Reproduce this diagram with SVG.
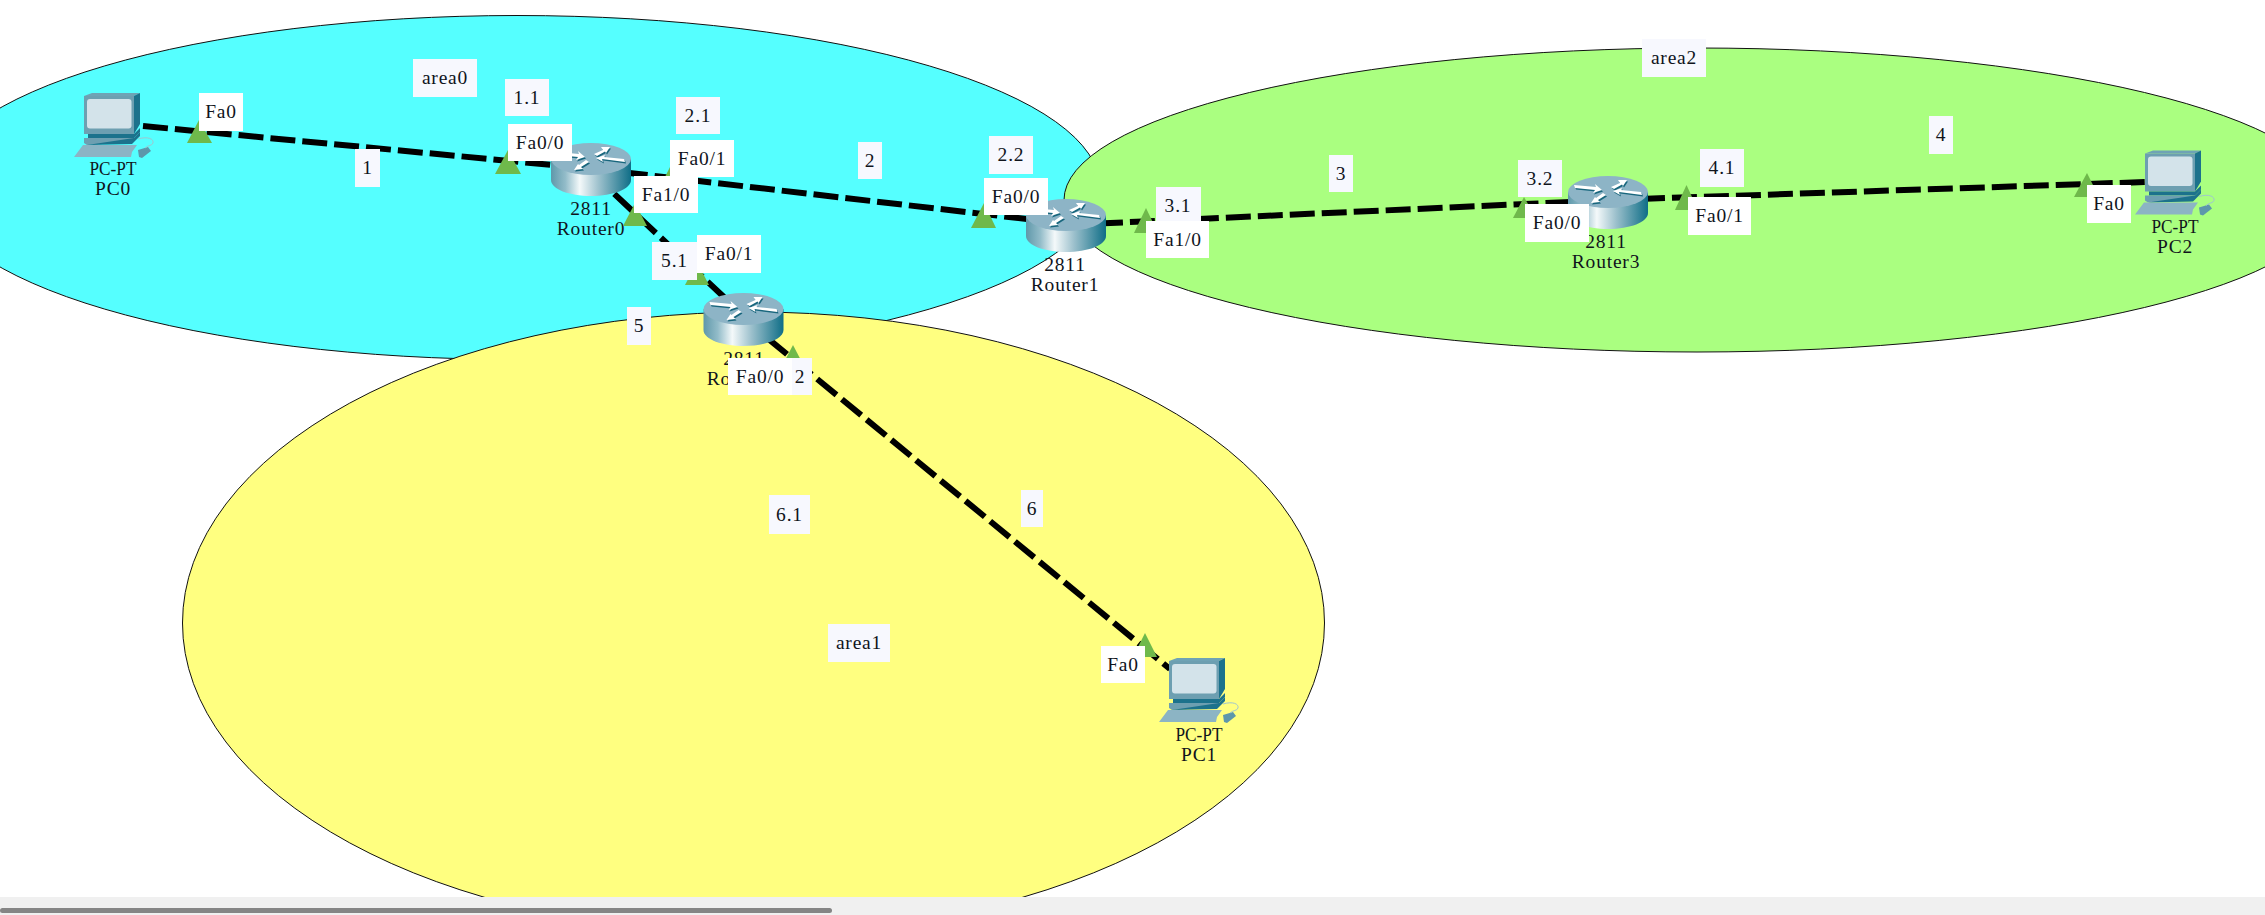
<svg xmlns="http://www.w3.org/2000/svg" width="2265" height="915" viewBox="0 0 2265 915">
<style>
.area{stroke:#111;stroke-width:1}
.link{fill:none;stroke:#000;stroke-width:6;stroke-dasharray:25 7}
.tri{fill:#6fb94b}
.note{fill:#f7f8fe}
.port{fill:#fff}
text{font-family:"Liberation Serif","Noto Sans CJK SC",serif;font-size:19.500px;letter-spacing:.8px;fill:#10141c;text-anchor:middle}
.pt{letter-spacing:0}
</style>
<defs>
<linearGradient id="cyl" x1="0" x2="1" y1="0" y2="0">
<stop offset="0" stop-color="#5f98aa"/><stop offset=".18" stop-color="#93bcc9"/><stop offset=".36" stop-color="#f4f9fa"/><stop offset=".6" stop-color="#9cc0cc"/><stop offset="1" stop-color="#0f6e87"/>
</linearGradient>
<g id="router">
<path d="M-40 0V21C-40 30-22 37 0 37S40 30 40 21V0Z" fill="url(#cyl)"/>
<ellipse cx="0" cy="0" rx="40" ry="16" fill="#8db4c6"/>
<g fill="#18667d" transform="translate(1 1.6)">
<polygon points="-34,-7 -12,-5 -13,-8 -6,-2 -15,1 -13,-2 -33,-4"/>
<polygon points="3,-5 12,-9 10,-12 19,-12 15,-6 14,-7.5 6,-3"/>
<polygon points="-2,3 -10,8 -8,10 -17,11 -13,5 -12,6 -5,1"/>
<polygon points="34,3 11,0 12,3 5,-1 14,-4 13,-2 33,0"/>
</g>
<g fill="#fff">
<polygon points="-34,-7 -12,-5 -13,-8 -6,-2 -15,1 -13,-2 -33,-4"/>
<polygon points="3,-5 12,-9 10,-12 19,-12 15,-6 14,-7.5 6,-3"/>
<polygon points="-2,3 -10,8 -8,10 -17,11 -13,5 -12,6 -5,1"/>
<polygon points="34,3 11,0 12,3 5,-1 14,-4 13,-2 33,0"/>
</g>
</g>
<g id="pc">
<polygon points="24,16 32,13 80,13 74,16" fill="#6fa3b5"/>
<polygon points="74,16 80,13 80,44 74,54" fill="#1c728c"/>
<rect x="24" y="16" width="50" height="38" fill="#6d9fb1"/>
<rect x="27" y="19" width="44.500" height="29.500" rx="3" fill="#d3e3ea"/>
<polygon points="28,54 74,54 80,48 80,52 74,58 28,58" fill="#1c728c"/>
<polygon points="24,58 74,58 74,62 27,65 24,63" fill="#6d9fb1"/>
<polygon points="74,58 80,52 80,56 72,64 27,65" fill="#1c728c"/>
<polygon points="14,77 23,65 77,65 72,72 71,77" fill="#8cb4c4"/>
<polygon points="78,70 88,67 91,71 82,78 79,77" fill="#5d97ab"/>
<path d="M78 59C88 56 94 59 93 63 92 66 88 65 85 68" fill="none" stroke="#9fc6cf" stroke-width="1"/>
</g>
</defs>
<rect width="2265" height="915" fill="#fff"/>
<ellipse class="area" cx="517" cy="187.500" rx="583" ry="172" fill="#55ffff"/>
<ellipse class="area" cx="1697" cy="200" rx="633" ry="152" fill="#aaff80"/>
<ellipse class="area" cx="753.500" cy="623" rx="571" ry="311" fill="#ffff80"/>
<g id="connectors">
<line class="link" x1="143" y1="126" x2="591" y2="168.700"/>
<line class="link" x1="591" y1="168.500" x2="1066" y2="223.600"/>
<line class="link" x1="591" y1="172" x2="743" y2="315"/>
<line class="link" x1="743" y1="318" x2="1170" y2="669"/>
<line class="link" x1="1066" y1="225" x2="1608" y2="200.200"/>
<line class="link" x1="1608" y1="200" x2="2146" y2="182"/>
</g>
<g id="node-pc0"><use href="#pc" x="60" y="80"/><text class="pt" textLength="47" lengthAdjust="spacingAndGlyphs" x="113" y="175">PC-PT</text><text x="113" y="195">PC0</text></g>
<g id="node-pc1"><use href="#pc" x="1145" y="645"/><text class="pt" textLength="47" lengthAdjust="spacingAndGlyphs" x="1199" y="741">PC-PT</text><text x="1199" y="761">PC1</text></g>
<g id="node-pc2"><use href="#pc" x="2121" y="137.500"/><text class="pt" textLength="47" lengthAdjust="spacingAndGlyphs" x="2175" y="233">PC-PT</text><text x="2175" y="253">PC2</text></g>
<g id="node-router0"><use href="#router" x="591" y="159"/><text x="591" y="215">2811</text><text x="591" y="235">Router0</text></g>
<g id="node-router1"><use href="#router" x="1066" y="215"/><text x="1065" y="271">2811</text><text x="1065" y="291">Router1</text></g>
<g id="node-router2"><use href="#router" x="743.500" y="309"/><text x="744" y="365">2811</text><text x="719" y="385">Ro</text></g>
<g id="node-router3"><use href="#router" x="1608" y="192"/><text x="1606" y="248">2811</text><text x="1606" y="268">Router3</text></g>
<g id="port-markers">
<polygon class="tri" points="199,120 187,143 212,143"/>
<polygon class="tri" points="508,150 495,174 521,174"/>
<polygon class="tri" points="672,163 660,187 685,187"/>
<polygon class="tri" points="635,203 623,226 647,226"/>
<polygon class="tri" points="697,262 685,285 709,285"/>
<polygon class="tri" points="793,345 781,368 805,368"/>
<polygon class="tri" points="1145,633 1133,657 1157,657"/>
<polygon class="tri" points="984,203 971,228 996,228"/>
<polygon class="tri" points="1146,208 1134,233 1158,233"/>
<polygon class="tri" points="1524,197 1513,218 1536,218"/>
<polygon class="tri" points="1686.500,185 1675,210 1698,210"/>
<polygon class="tri" points="2087,173 2074,197 2099,197"/>
</g>
<g id="label-area0"><rect class="note" x="413" y="59" width="64" height="38"/><text x="445" y="84">area0</text></g>
<g id="label-area1"><rect class="note" x="828" y="624" width="62" height="38"/><text x="859" y="649">area1</text></g>
<g id="label-area2"><rect class="note" x="1642" y="39" width="64" height="38"/><text x="1674" y="64">area2</text></g>
<g id="label-1"><rect class="note" x="355" y="149" width="25" height="38"/><text x="367.500" y="174">1</text></g>
<g id="label-2"><rect class="note" x="858" y="142" width="24" height="37"/><text x="870" y="167">2</text></g>
<g id="label-3"><rect class="note" x="1329" y="155" width="24" height="37"/><text x="1341" y="180">3</text></g>
<g id="label-4"><rect class="note" x="1929" y="116" width="24" height="38"/><text x="1941" y="141">4</text></g>
<g id="label-5"><rect class="note" x="627" y="307" width="24" height="38"/><text x="639" y="332">5</text></g>
<g id="label-6"><rect class="note" x="1021" y="490" width="22" height="37"/><text x="1032" y="515">6</text></g>
<g id="label-1-1"><rect class="note" x="505" y="79" width="44" height="37"/><text x="527" y="104">1.1</text></g>
<g id="label-2-1"><rect class="note" x="676" y="97" width="44" height="37"/><text x="698" y="122">2.1</text></g>
<g id="label-2-2"><rect class="note" x="989" y="136" width="44" height="38"/><text x="1011" y="161">2.2</text></g>
<g id="label-3-1"><rect class="note" x="1156" y="187" width="45" height="38"/><text x="1178" y="212">3.1</text></g>
<g id="label-3-2"><rect class="note" x="1518" y="160" width="44" height="37"/><text x="1540" y="185">3.2</text></g>
<g id="label-4-1"><rect class="note" x="1700" y="149" width="44" height="38"/><text x="1722" y="174">4.1</text></g>
<g id="label-5-1"><rect class="note" x="652" y="242" width="45" height="38"/><text x="674.500" y="267">5.1</text></g>
<g id="label-6-1"><rect class="note" x="769" y="495" width="41" height="39"/><text x="789.500" y="521">6.1</text></g>
<g id="label-2b"><rect class="note" x="780" y="358" width="32" height="37"/><text x="800" y="383">2</text></g>
<g id="port-pc0"><rect class="port" x="199" y="93" width="44" height="38"/><text x="221" y="118">Fa0</text></g>
<g id="port-r0-f00"><rect class="port" x="508" y="124" width="64" height="37"/><text x="540" y="149">Fa0/0</text></g>
<g id="port-r0-f01"><rect class="port" x="670" y="140" width="64" height="37"/><text x="702" y="165">Fa0/1</text></g>
<g id="port-r0-f10"><rect class="port" x="634" y="176" width="64" height="37"/><text x="666" y="201">Fa1/0</text></g>
<g id="port-r2-f01"><rect class="port" x="697" y="235" width="64" height="38"/><text x="729" y="260">Fa0/1</text></g>
<g id="port-r2-f00"><rect class="port" x="728" y="358" width="64" height="37"/><text x="760" y="383">Fa0/0</text></g>
<g id="port-pc1"><rect class="port" x="1101" y="646" width="44" height="37"/><text x="1123" y="671">Fa0</text></g>
<g id="port-r1-f00"><rect class="port" x="984" y="178" width="64" height="37"/><text x="1016" y="203">Fa0/0</text></g>
<g id="port-r1-f10"><rect class="port" x="1146" y="221" width="63" height="37"/><text x="1177.500" y="246">Fa1/0</text></g>
<g id="port-r3-f00"><rect class="port" x="1525" y="204" width="64" height="38"/><text x="1557" y="229">Fa0/0</text></g>
<g id="port-r3-f01"><rect class="port" x="1688" y="197" width="63" height="38"/><text x="1719.500" y="222">Fa0/1</text></g>
<g id="port-pc2"><rect class="port" x="2087" y="185" width="44" height="38"/><text x="2109" y="210">Fa0</text></g>
<rect x="0" y="897" width="2265" height="18" fill="#f0f0f0"/>
<rect x="0" y="908" width="832" height="5" rx="2.500" fill="#858585"/>
</svg>
